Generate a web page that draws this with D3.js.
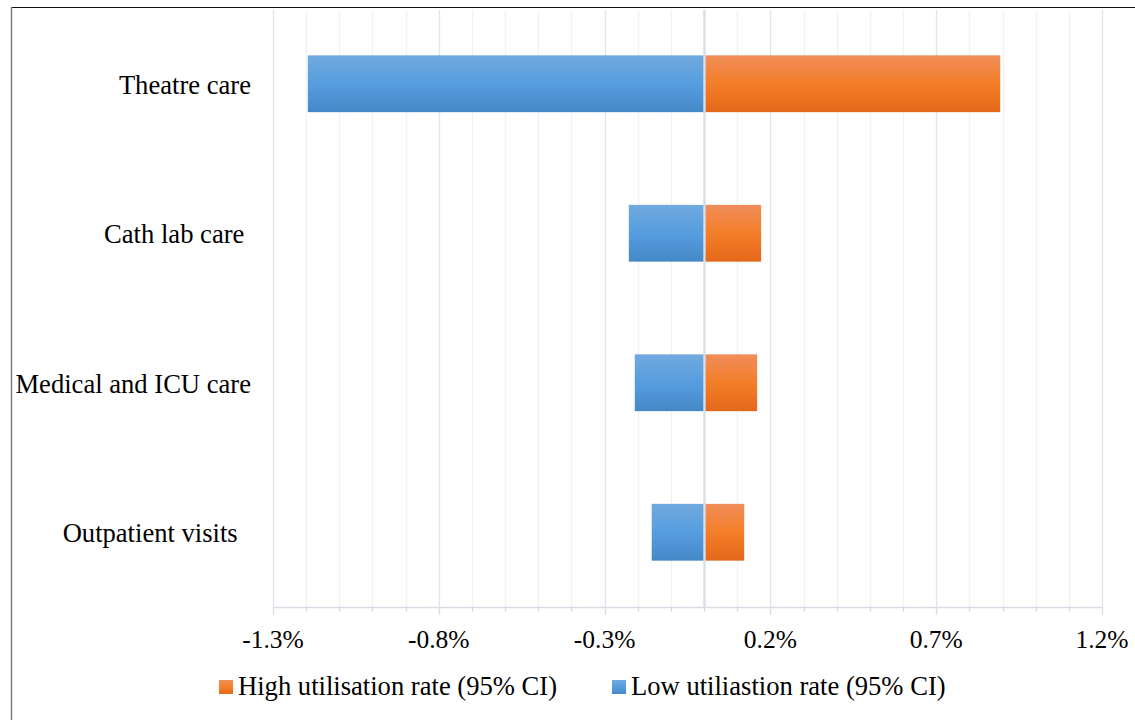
<!DOCTYPE html>
<html>
<head>
<meta charset="utf-8">
<script src="https://cdn.jsdelivr.net/npm/d3@7"></script>
<style>
  html, body { margin: 0; padding: 0; background: #fff; }
  svg { display: block; }
  text { font-family: "Liberation Serif", "Times New Roman", serif; fill: #000; }
</style>
</head>
<body>
<svg id="chart" width="1135" height="720"></svg>
<script>
const categories = ["Theatre care", "Cath lab care ", "Medical and ICU care", "Outpatient visits  "];
const highRate = [0.893, 0.172, 0.160, 0.121];
const lowRate = [-1.195, -0.227, -0.209, -0.158];
const minorTicks = [-1.3,-1.2,-1.1,-1.0,-0.9,-0.8,-0.7,-0.6,-0.5,-0.4,-0.3,-0.2,-0.1,0,0.1,0.2,0.3,0.4,0.5,0.6,0.7,0.8,0.9,1.0,1.1,1.2];
const majorTicks = [-1.3, -0.8, -0.3, 0.2, 0.7, 1.2];
const tickLabels = ["-1.3%", "-0.8%", "-0.3%", "0.2%", "0.7%", "1.2%"];
const seriesNames = ["High utilisation rate (95% CI)", "Low utiliastion rate (95% CI)"];

const svg = d3.select("#chart");
const W = 1135, H = 720;
const plotTop = 9, plotBottom = 607, plotLeft = 273, plotRight = 1102;

const x = d3.scaleLinear().domain([-1.3, 1.2]).range([plotLeft, plotRight]);
const y = d3.scaleBand().domain(categories).range([plotTop, plotBottom]).paddingInner(0.62).paddingOuter(0.31);

const defs = svg.append("defs");
function grad(id, stops) {
  const g = defs.append("linearGradient").attr("id", id).attr("x1", 0).attr("y1", 0).attr("x2", 0).attr("y2", 1);
  stops.forEach(s => g.append("stop").attr("offset", s[0]).attr("stop-color", s[1]));
}
grad("gBlue", [[0, "#71a9de"], [0.5, "#569ddf"], [1, "#4588c8"]]);
grad("gOrange", [[0, "#f08d59"], [0.5, "#f47e29"], [1, "#e4681b"]]);

// frame
svg.append("line").attr("x1", 11).attr("x2", W).attr("y1", 7.5).attr("y2", 7.5).attr("stroke", "#111").attr("stroke-width", 1.2);
svg.append("line").attr("x1", 11.5).attr("x2", 11.5).attr("y1", 7).attr("y2", H).attr("stroke", "#777").attr("stroke-width", 1.4);

// gridlines
const isMajor = v => majorTicks.some(m => Math.abs(m - v) < 1e-9);
svg.append("g").selectAll("line").data(minorTicks.filter(v => Math.abs(v) > 1e-9)).join("line")
  .attr("x1", d => Math.round(x(d)) + 0.5).attr("x2", d => Math.round(x(d)) + 0.5)
  .attr("y1", plotTop + 1).attr("y2", plotBottom)
  .attr("stroke", d => isMajor(d) ? "#dfe3eb" : "#f1f1f4")
  .attr("stroke-width", 1.3);

// bars
const rows = categories.map((c, i) => ({ c, hi: highRate[i], lo: lowRate[i] }));
const bars = svg.append("g");
bars.selectAll("rect.lo").data(rows).join("rect").attr("class", "lo")
  .attr("x", d => x(d.lo)).attr("width", d => x(0) - x(d.lo))
  .attr("y", d => y(d.c)).attr("height", y.bandwidth())
  .attr("fill", "url(#gBlue)");
bars.selectAll("rect.hi").data(rows).join("rect").attr("class", "hi")
  .attr("x", x(0)).attr("width", d => x(d.hi) - x(0))
  .attr("y", d => y(d.c)).attr("height", y.bandwidth())
  .attr("fill", "url(#gOrange)");

// zero line
svg.append("line").attr("x1", x(0) + 0.4).attr("x2", x(0) + 0.4).attr("y1", plotTop + 1).attr("y2", plotBottom)
  .attr("stroke", "#d9dde6").attr("stroke-width", 2.4);

// x axis
const ax = svg.append("g");
ax.append("line").attr("x1", plotLeft).attr("x2", plotRight + 1).attr("y1", plotBottom + 0.5).attr("y2", plotBottom + 0.5)
  .attr("stroke", "#d9dce4").attr("stroke-width", 1.3);
ax.selectAll("line.t").data(minorTicks).join("line").attr("class", "t")
  .attr("x1", d => Math.round(x(d)) + 0.5).attr("x2", d => Math.round(x(d)) + 0.5)
  .attr("y1", plotBottom).attr("y2", d => isMajor(d) ? plotBottom + 8 : plotBottom + 5)
  .attr("stroke", "#d9dce4").attr("stroke-width", 1.3);
ax.selectAll("text").data(majorTicks).join("text")
  .attr("x", d => x(d)).attr("y", 648)
  .attr("text-anchor", "middle").style("font-size", "25.5px")
  .text((d, i) => tickLabels[i]);

// category labels
svg.append("g").selectAll("text").data(categories).join("text")
  .attr("x", 251).attr("y", d => y(d) + y.bandwidth() / 2)
  .attr("dy", "0.38em").attr("text-anchor", "end")
  .style("font-size", "26.6px").style("white-space", "pre")
  .text(d => d);

// legend
const legend = [
  { name: seriesNames[0], fill: "url(#gOrange)", sx: 219, tx: 238 },
  { name: seriesNames[1], fill: "url(#gBlue)", sx: 612, tx: 631 }
];
const lg = svg.append("g");
lg.selectAll("rect").data(legend).join("rect")
  .attr("x", d => d.sx).attr("y", 680).attr("width", 14).attr("height", 14)
  .attr("fill", d => d.fill);
lg.selectAll("text").data(legend).join("text")
  .attr("x", d => d.tx).attr("y", 695)
  .style("font-size", "26.6px")
  .text(d => d.name);
</script>
</body>
</html>
